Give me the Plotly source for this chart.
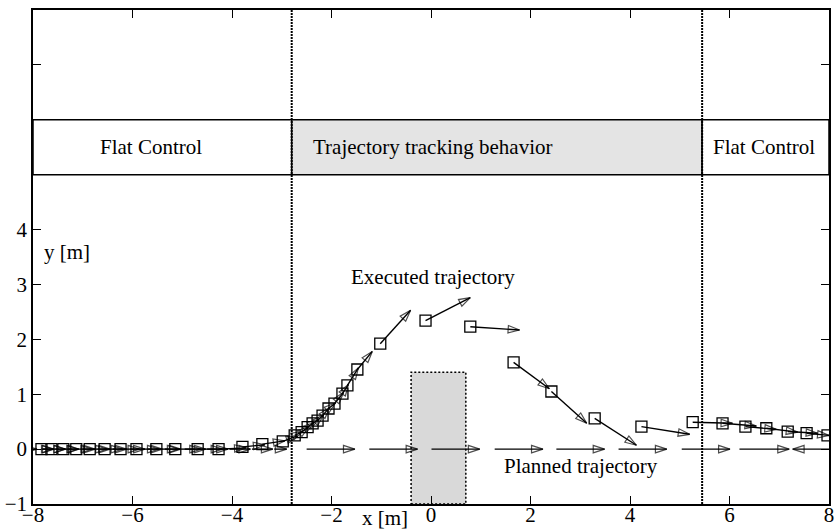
import plotly.graph_objects as go

# ---------------- data ----------------
# Executed trajectory: robot positions (squares) and velocity arrows
EXEC_X = [-7.83, -7.63, -7.39, -7.13, -6.86, -6.56, -6.24, -5.92, -5.52, -5.14,
          -4.69, -4.27, -3.79, -3.39, -2.98, -2.74, -2.60, -2.48, -2.38, -2.28,
          -2.18, -2.06, -1.94, -1.78, -1.68, -1.48, -1.02, -0.11, 0.79, 1.66,
          2.42, 3.29, 4.23, 5.26, 5.86, 6.32, 6.74, 7.17, 7.55, 7.97]
EXEC_Y = [0.0, 0.0, 0.0, 0.0, 0.0, 0.0, 0.0, 0.0, 0.0, 0.0,
          0.0, 0.0, 0.04, 0.09, 0.14, 0.25, 0.31, 0.40, 0.47, 0.52,
          0.61, 0.74, 0.83, 1.01, 1.16, 1.45, 1.92, 2.34, 2.23, 1.58,
          1.05, 0.56, 0.41, 0.49, 0.47, 0.41, 0.38, 0.32, 0.29, 0.25]
EXEC_DX = [0.25, 0.28, 0.30, 0.32, 0.35, 0.36, 0.38, 0.45, 0.45, 0.52,
           0.50, 0.55, 0.45, 0.45, 0.30, 0.16, 0.14, 0.12, 0.12, 0.12,
           0.14, 0.14, 0.18, 0.12, 0.22, 0.30, 0.61, 0.90, 0.99, 0.72,
           0.71, 0.84, 0.97, 0.80, 0.68, 0.62, 0.63, 0.60, 0.45, 0.30]
EXEC_DY = [0.0, 0.0, 0.0, 0.0, 0.0, 0.0, 0.0, 0.0, 0.0, 0.0,
           0.0, 0.02, 0.04, 0.06, 0.10, 0.07, 0.10, 0.08, 0.07, 0.10,
           0.15, 0.10, 0.20, 0.17, 0.32, 0.33, 0.61, 0.42, -0.06, -0.48,
           -0.58, -0.49, -0.14, -0.02, -0.05, -0.05, -0.07, -0.03, -0.04, -0.03]

# Planned trajectory: positions along y = 0 and velocity arrows
PLAN_X = [-8.0, -7.8, -7.55, -7.3, -7.0, -6.7, -6.4, -6.05, -5.7, -5.35,
          -4.95, -4.5, -4.05, -3.6, -3.15, -2.5, -1.24, 0.01, 1.28, 2.52,
          3.77, 5.04, 6.2, 8.0]
PLAN_Y = [0.0] * len(PLAN_X)
PLAN_DX = [0.08, 0.2, 0.2, 0.22, 0.25, 0.25, 0.28, 0.3, 0.3, 0.32,
           0.42, 0.42, 0.42, 0.42, 0.25, 0.97, 0.97, 0.97, 0.97, 0.97,
           0.97, 0.97, 1.0, -0.73]
PLAN_DY = [0.0] * len(PLAN_X)

# Behaviour phases (x boundaries) and their labels
PHASE_BOUNDS = [-8.0, -2.8, 5.45, 8.0]
PHASE_LABELS = ["Flat Control", "Trajectory tracking behavior", "Flat Control"]
PHASE_FILLS = ["white", "#e4e4e4", "white"]
PHASE_Y = [5.0, 6.0]

# Obstacle
OBSTACLE_X = [-0.4, 0.7]
OBSTACLE_Y = [-1.0, 1.4]

X_TICKS = [-8, -6, -4, -2, 0, 2, 4, 6, 8]
X_TICK_TEXT = ["\u22128", "\u22126", "\u22124", "\u22122", "0", "2", "4", "6", "8"]
Y_TICKS = [-1, 0, 1, 2, 3, 4, 5, 6, 7, 8]
Y_TICK_TEXT = ["\u22121", "0", "1", "2", "3", "4", "", "", "", ""]

FONT = "Liberation Serif"
FS = 21


def arrows(x, y, dx, dy):
    xs, ys, sizes = [], [], []
    for xi, yi, dxi, dyi in zip(x, y, dx, dy):
        xs += [xi, xi + dxi, None]
        ys += [yi, yi + dyi, None]
        sizes += [0, 12, 0]
    return go.Scatter(
        x=xs, y=ys, mode="lines+markers",
        line=dict(color="black", width=1.4),
        marker=dict(symbol="arrow-open", size=sizes, angleref="previous",
                    color="black", line=dict(color="black", width=1.2)),
        connectgaps=False, hoverinfo="skip", showlegend=False,
    )


fig = go.Figure()
fig.add_trace(arrows(PLAN_X, PLAN_Y, PLAN_DX, PLAN_DY))
fig.add_trace(arrows(EXEC_X, EXEC_Y, EXEC_DX, EXEC_DY))
fig.add_trace(go.Scatter(
    x=EXEC_X, y=EXEC_Y, mode="markers",
    marker=dict(symbol="square-open", size=11, color="black",
                line=dict(color="black", width=1.3)),
    hoverinfo="skip", showlegend=False,
))

shapes = []
# obstacle
shapes.append(dict(type="rect", xref="x", yref="y",
                   x0=OBSTACLE_X[0], x1=OBSTACLE_X[1], y0=OBSTACLE_Y[0], y1=OBSTACLE_Y[1],
                   fillcolor="#d9d9d9", line=dict(color="black", width=1.5, dash="2px,2px"),
                   layer="below"))
# phase bands
for i in range(3):
    shapes.append(dict(type="rect", xref="x", yref="y",
                       x0=PHASE_BOUNDS[i], x1=PHASE_BOUNDS[i + 1],
                       y0=PHASE_Y[0], y1=PHASE_Y[1],
                       fillcolor=PHASE_FILLS[i], line=dict(color="black", width=1.5),
                       layer="below"))
# dotted phase separators
for xb in PHASE_BOUNDS[1:3]:
    shapes.append(dict(type="line", xref="x", yref="paper", x0=xb, x1=xb, y0=0, y1=1,
                       line=dict(color="black", width=2, dash="2px,1px"), layer="above"))

annotations = [
    dict(text=PHASE_LABELS[0], x=-5.62, y=5.5, xref="x", yref="y", showarrow=False,
         xanchor="center", yanchor="middle"),
    dict(text=PHASE_LABELS[1], x=-2.42, y=5.5, xref="x", yref="y", showarrow=False,
         xanchor="left", yanchor="middle"),
    dict(text=PHASE_LABELS[2], x=6.70, y=5.5, xref="x", yref="y", showarrow=False,
         xanchor="center", yanchor="middle"),
    dict(text="Executed trajectory", x=0.04, y=3.13, xref="x", yref="y", showarrow=False,
         xanchor="center", yanchor="middle"),
    dict(text="Planned trajectory", x=3.02, y=-0.31, xref="x", yref="y", showarrow=False,
         xanchor="center", yanchor="middle"),
    dict(text="y [m]", x=-7.31, y=3.59, xref="x", yref="y", showarrow=False,
         xanchor="center", yanchor="middle"),
    dict(text="x [m]", x=-0.93, y=-0.029, xref="x", yref="paper", showarrow=False,
         xanchor="center", yanchor="middle"),
]

axis_common = dict(showline=True, linecolor="black", linewidth=1.5, mirror="allticks",
                   ticks="inside", ticklen=8, tickwidth=1.2, tickcolor="black",
                   showgrid=False, zeroline=False, automargin=False,
                   tickfont=dict(family=FONT, size=FS, color="black"))

fig.update_layout(
    width=836, height=532,
    margin=dict(l=33, r=7, t=10, b=28),
    paper_bgcolor="white", plot_bgcolor="white",
    font=dict(family=FONT, size=FS, color="black"),
    showlegend=False,
    shapes=shapes, annotations=annotations,
    xaxis=dict(range=[-8, 8], tickvals=X_TICKS, ticktext=X_TICK_TEXT,
               ticklabelstandoff=-9, **axis_common),
    yaxis=dict(range=[-1, 8], tickvals=Y_TICKS, ticktext=Y_TICK_TEXT,
               ticklabelstandoff=0, **axis_common),
)

fig.write_html("out.html")
